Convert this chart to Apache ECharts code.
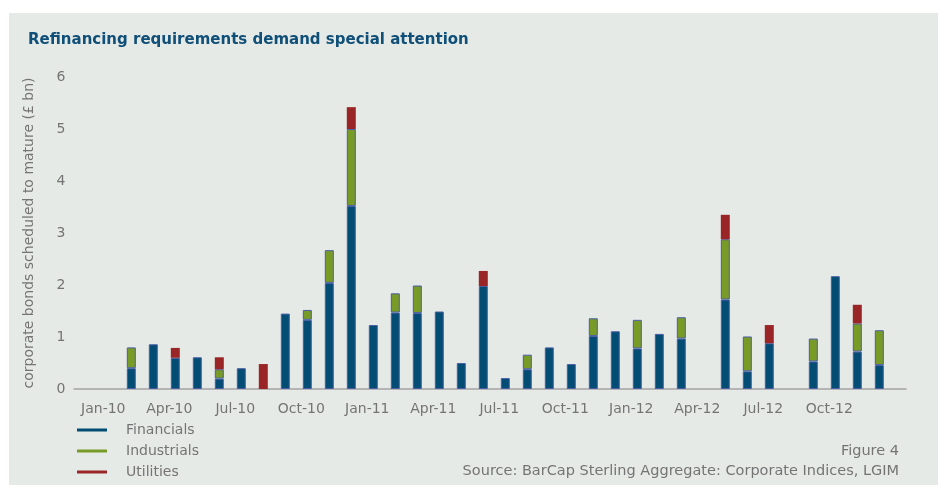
<!DOCTYPE html>
<html>
<head>
<meta charset="utf-8">
<script src="https://cdn.jsdelivr.net/npm/echarts@6/dist/echarts.min.js"></script>
<style>
  html, body { margin: 0; padding: 0; background: #ffffff; }
  #panel { position: absolute; left: 9px; top: 13px; width: 929px; height: 472px; background: #e6eae7; }
  #chart { position: absolute; left: 0; top: 0; width: 938px; height: 485px; }
</style>
</head>
<body>
<div id="panel"></div>
<div id="chart"></div>
<script>
// Monthly maturities, £bn
const months = [
  'Jan-10','Feb-10','Mar-10','Apr-10','May-10','Jun-10','Jul-10','Aug-10','Sep-10','Oct-10','Nov-10','Dec-10',
  'Jan-11','Feb-11','Mar-11','Apr-11','May-11','Jun-11','Jul-11','Aug-11','Sep-11','Oct-11','Nov-11','Dec-11',
  'Jan-12','Feb-12','Mar-12','Apr-12','May-12','Jun-12','Jul-12','Aug-12','Sep-12','Oct-12','Nov-12','Dec-12'
];
const financials = [
  null, 0.40, 0.86, 0.60, 0.61, 0.20, 0.40, null, 1.45, 1.33, 2.04, 3.52,
  1.23, 1.47, 1.46, 1.49, 0.50, 1.98, 0.21, 0.38, 0.80, 0.48, 1.02, 1.11,
  0.78, 1.06, 0.97, null, 1.72, 0.34, 0.88, null, 0.53, 2.17, 0.72, 0.46
];
const industrials = [
  null, 0.40, null, null, null, 0.18, null, null, null, 0.19, 0.63, 1.48,
  null, 0.37, 0.53, null, null, null, null, 0.28, null, null, 0.34, null,
  0.55, null, 0.41, null, 1.16, 0.67, null, null, 0.44, null, 0.54, 0.67
];
const utilities = [
  null, null, null, 0.19, null, 0.23, null, 0.48, null, null, null, 0.42,
  null, null, null, null, null, 0.29, null, null, null, null, null, null,
  null, null, null, null, 0.47, null, 0.35, null, null, null, 0.36, null
];
const yTicks = { min: 0, max: 6, step: 1 };

const FONT = "'DejaVu Sans', sans-serif";
const GREY = '#747474';
const COLORS = { Financials: '#034c73', Industrials: '#789a27', Utilities: '#9a2527' };

const chart = echarts.init(document.getElementById('chart'), null, { renderer: 'canvas' });

const barBase = {
  type: 'bar',
  stack: 'total',
  barWidth: 9,
  xAxisIndex: 0,
  yAxisIndex: 0
};

chart.setOption({
  animation: false,
  backgroundColor: 'transparent',
  title: {
    text: 'Refinancing requirements demand special attention',
    left: 28,
    top: 33,
    padding: 0,
    textStyle: { fontFamily: FONT, fontWeight: 'bold', fontSize: 15, color: '#0f4f78' }
  },
  legend: {
    orient: 'vertical',
    left: 77,
    top: 423,
    height: 70,
    padding: 0,
    itemWidth: 30,
    itemHeight: 3,
    itemGap: 7,
    icon: 'rect',
    textStyle: { fontFamily: FONT, fontSize: 14, color: GREY, padding: [0, 0, 0, 14] },
    data: ['Financials', 'Industrials', 'Utilities'].map(n => ({
      name: n,
      itemStyle: { color: COLORS[n], borderWidth: 0 }
    }))
  },
  grid: [
    { left: 98.3, right: 47.7, top: 77, bottom: 96 },
    { left: 74, right: 32, top: 77, bottom: 96 }
  ],
  xAxis: [
    {
      type: 'category',
      gridIndex: 0,
      data: months,
      boundaryGap: true,
      axisLine: { show: false },
      axisTick: { show: false },
      axisLabel: {
        interval: 2,
        margin: 13,
        padding: [0, 12, 0, 0],
        fontFamily: FONT,
        fontSize: 14,
        color: GREY
      }
    },
    {
      type: 'value',
      gridIndex: 1,
      min: 0,
      max: 1,
      axisLine: { show: true, lineStyle: { color: '#a3a3a3', width: 1.5 } },
      axisTick: { show: false },
      axisLabel: { show: false },
      splitLine: { show: false }
    }
  ],
  yAxis: [
    {
      type: 'value',
      gridIndex: 0,
      min: yTicks.min,
      max: yTicks.max,
      interval: yTicks.step,
      name: 'corporate bonds scheduled to mature (£ bn)',
      nameLocation: 'middle',
      nameRotate: 90,
      nameGap: 62,
      nameTextStyle: { fontFamily: FONT, fontSize: 14, color: GREY },
      axisLine: { show: false },
      axisTick: { show: false },
      splitLine: { show: false },
      axisLabel: { margin: 33, fontFamily: FONT, fontSize: 14, color: GREY }
    },
    {
      type: 'value',
      gridIndex: 1,
      show: false,
      min: 0,
      max: 1
    }
  ],
  series: [
    Object.assign({}, barBase, {
      name: 'Financials',
      data: financials,
      itemStyle: { color: COLORS.Financials, borderColor: '#4a5ea6', borderWidth: 1 }
    }),
    Object.assign({}, barBase, {
      name: 'Industrials',
      data: industrials,
      itemStyle: { color: COLORS.Industrials, borderColor: '#4a5ea6', borderWidth: 1 }
    }),
    Object.assign({}, barBase, {
      name: 'Utilities',
      data: utilities,
      itemStyle: { color: COLORS.Utilities }
    })
  ],
  graphic: [
    {
      type: 'text',
      right: 39,
      top: 444,
      style: { text: 'Figure 4', font: '14.5px ' + FONT, fill: GREY }
    },
    {
      type: 'text',
      right: 39,
      top: 464,
      style: { text: 'Source: BarCap Sterling Aggregate: Corporate Indices, LGIM', font: '14.5px ' + FONT, fill: GREY }
    }
  ]
});
</script>
</body>
</html>
